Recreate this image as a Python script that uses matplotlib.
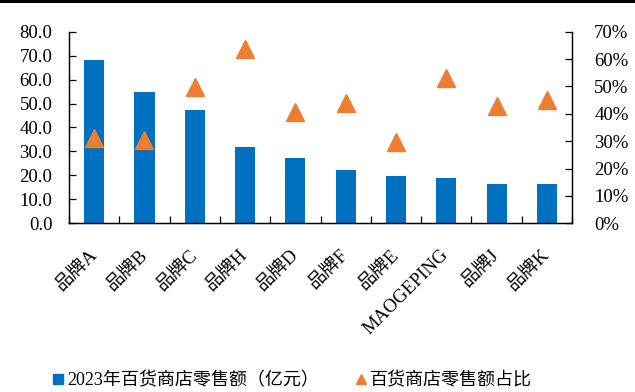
#!/usr/bin/env python3
"""Department store retail sales by brand, 2023, with share ratio."""

import matplotlib
matplotlib.use("Agg")
import matplotlib.pyplot as plt
import matplotlib.transforms as mtransforms
from matplotlib.lines import Line2D
from matplotlib.patches import Rectangle
from matplotlib.ticker import FormatStrFormatter, PercentFormatter, FixedLocator

BRANDS = ["品牌A", "品牌B", "品牌C", "品牌H", "品牌D", "品牌F", "品牌E",
          "MAOGEPING", "品牌J", "品牌K"]
SALES = [68.0, 54.9, 47.2, 31.7, 27.1, 22.1, 19.9, 18.8, 16.4, 16.3]
SHARE_PCT = [31.1, 30.5, 49.9, 63.8, 40.7, 44.1, 29.7, 53.2, 42.9, 45.2]

BAR_LABEL = "2023年百货商店零售额（亿元）"
MARK_LABEL = "百货商店零售额占比"

BAR_COLOR = "#0070C0"
MARK_COLOR = "#ED7D31"
FONT = ["Liberation Serif", "Noto Sans CJK SC"]

plt.rcParams["font.family"] = FONT
plt.rcParams["font.size"] = 13.5


def main() -> None:
  fig = plt.figure(figsize=(6.35, 3.92), dpi=100)
  ax = fig.add_axes([0.1087, 0.4304, 0.7921, 0.4887])
  ax2 = ax.twinx()

  x = list(range(len(BRANDS)))
  ax.bar(x, SALES, width=0.4, color=BAR_COLOR, zorder=2)
  ax2.plot(x, SHARE_PCT, linestyle="none", marker="^", markersize=13,
           color=MARK_COLOR, zorder=3)

  ax.set_xlim(-0.5, len(BRANDS) - 0.5)
  ax.set_ylim(0, 80)
  ax.set_yticks(range(0, 81, 10))
  ax.yaxis.set_major_formatter(FormatStrFormatter("%.1f"))
  ax2.set_ylim(0, 70)
  ax2.set_yticks(range(0, 71, 10))
  ax2.yaxis.set_major_formatter(PercentFormatter(100, decimals=0))

  # boundary ticks without labels, labels at centres without ticks
  ax.xaxis.set_major_locator(FixedLocator([i - 0.5 for i in range(len(BRANDS) + 1)]))
  ax.xaxis.set_major_formatter(plt.NullFormatter())
  ax.xaxis.set_minor_locator(FixedLocator(x))
  ax.set_xticklabels(BRANDS, minor=True, rotation=45, ha="right",
                     va="center", rotation_mode="anchor")
  shift = mtransforms.ScaledTranslation(5 / 100, 0, fig.dpi_scale_trans)
  for label in ax.get_xticklabels(minor=True):
    label.set_transform(label.get_transform() + shift)
  ax.tick_params(axis="x", which="major", direction="in", length=5, width=0.9)
  ax.tick_params(axis="x", which="minor", length=0, pad=21)
  ax.tick_params(axis="y", direction="in", length=5, width=0.9, pad=12)
  ax2.tick_params(axis="y", direction="in", length=5, width=0.9, pad=16)

  for a in (ax, ax2):
    a.spines["top"].set_visible(False)
    for side in ("left", "right", "bottom"):
      a.spines[side].set_linewidth(0.9)
      a.spines[side].set_color("black")

  handles = [
      Line2D([], [], linestyle="none", marker="s", markersize=7, color=BAR_COLOR),
      Line2D([], [], linestyle="none", marker="^", markersize=7, color=MARK_COLOR),
  ]
  fig.legend(handles, [BAR_LABEL, MARK_LABEL], loc="center", ncol=2,
             bbox_to_anchor=(0.46, 0.028), frameon=False, handlelength=0.6,
             handletextpad=0.2, columnspacing=2.0, fontsize=13)

  fig.add_artist(Rectangle((0, 1 - 3 / 392), 1, 3 / 392, transform=fig.transFigure,
                           color="black", linewidth=0))

  fig.savefig("out.png", dpi=100)
  plt.close(fig)


if __name__ == "__main__":
  main()
